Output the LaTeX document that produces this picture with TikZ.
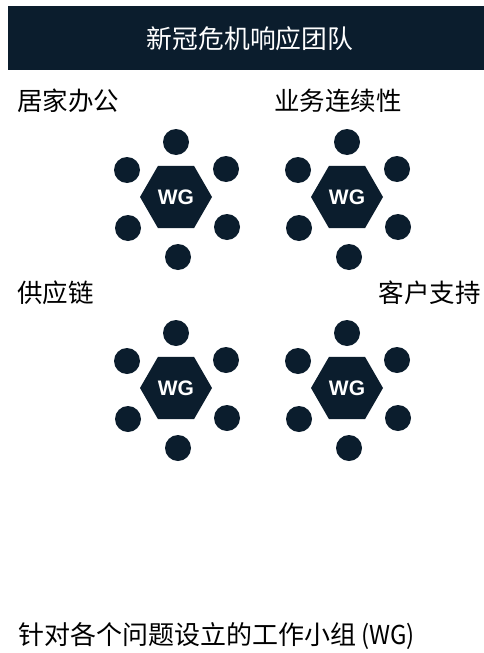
\documentclass[tikz,border=0pt]{standalone}
\usepackage{fontspec}
\setmainfont{Liberation Sans}
\newfontfamily\cjk{Noto Sans CJK SC}
\usetikzlibrary{shapes.geometric,calc}
\definecolor{navy}{HTML}{0B1D2D}
\tikzset{
  hexbox/.style={regular polygon, regular polygon sides=6, minimum size=72pt, inner sep=0pt, fill=navy, text=white, font=\fontsize{21}{21}\selectfont\bfseries},
  member/.style={circle, minimum size=26pt, inner sep=0pt, fill=navy},
  lbl/.style={inner sep=0pt, font=\cjk\fontsize{25.5}{25.5}\selectfont, text=black},
}
\newcommand{\wggroup}[3]{%
  \node[hexbox] (#1) at (#2,#3) {WG};
  \node[member] (#1-t) at ($(#1)+(0,-55)$) {};
  \node[member] (#1-ul) at ($(#1)+(-49,-27)$) {};
  \node[member] (#1-ur) at ($(#1)+(50,-28)$) {};
  \node[member] (#1-ll) at ($(#1)+(-48,31)$) {};
  \node[member] (#1-lr) at ($(#1)+(51,30)$) {};
  \node[member] (#1-b) at ($(#1)+(2,60)$) {};
}
\begin{document}
\begin{tikzpicture}[x=1pt,y=-1pt]
\useasboundingbox[fill=white] (0,0) rectangle (484,653);
\node[fill=navy, minimum width=476pt, minimum height=64pt, inner sep=0pt, anchor=north west] (header) at (8,6) {};
\node[inner sep=0pt, text=white, font=\cjk\fontsize{25.8}{25.8}\selectfont] (title) at (250,39) {新冠危机响应团队};
\node[lbl, anchor=west] (l1) at (17,101) {居家办公};
\node[lbl, anchor=west] (l2) at (274,101) {业务连续性};
\node[lbl, anchor=west] (l3) at (17,293) {供应链};
\node[lbl, anchor=east] (l4) at (481,293) {客户支持};
\wggroup{g1}{176}{197}
\wggroup{g2}{347}{197}
\wggroup{g3}{176}{388}
\wggroup{g4}{347}{388}
\node[lbl, anchor=west, font=\cjk\fontsize{26}{26}\selectfont] (foot) at (18,636) {针对各个问题设立的工作小组\hspace{5pt}\scalebox{0.92}[1]{(WG)}};
\end{tikzpicture}
\end{document}
